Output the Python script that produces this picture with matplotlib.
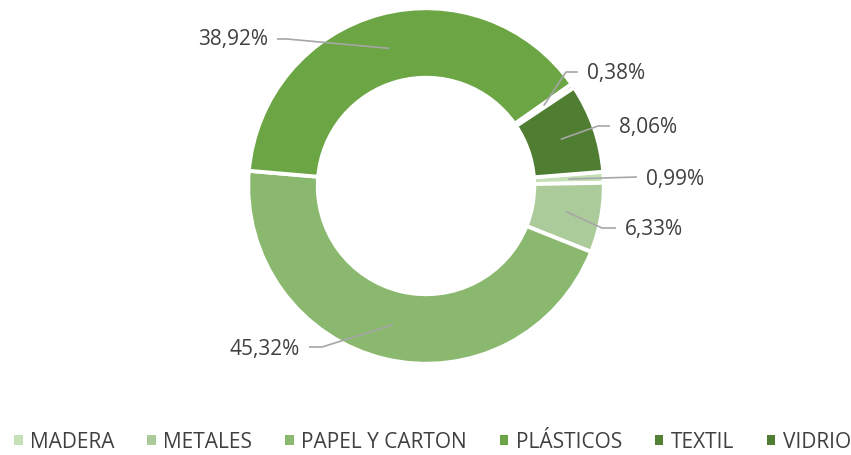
import numpy as np
import matplotlib.pyplot as plt
from matplotlib.patches import Patch

categorias = ['MADERA', 'METALES', 'PAPEL Y CARTON', 'PLÁSTICOS', 'TEXTIL', 'VIDRIO']
porcentajes = [0.99, 6.33, 45.32, 38.92, 0.38, 8.06]
colores = ['#c5dfb6', '#abcb9b', '#8ab86e', '#6ca544', '#548235', '#4f7d31']

plt.rcParams['font.family'] = ['Open Sans', 'DejaVu Sans']
texto_color = '#404040'
linea_color = '#a6a6a6'

W, H = 851, 456
cx, cy, R = 426, 187, 176   # centro y radio del anillo en pixeles

fig = plt.figure(figsize=(W / 100, H / 100), dpi=100)
ax = fig.add_axes([0, 0, 1, 1])

inicio = 4.6
wedges, _ = ax.pie(porcentajes, colors=colores, startangle=inicio, counterclock=False,
                   radius=1.01, wedgeprops=dict(width=0.395, edgecolor='white', linewidth=2.8))

ax.set_aspect('auto')
ax.set_xlim(-cx / R, (W - cx) / R)
ax.set_ylim((cy - H) / R, cy / R)
ax.axis('off')


def px(x, y):
    return (x - cx) / R, (cy - y) / R


# posiciones de las etiquetas (pixeles): texto, codo de la linea, lado
etiquetas = [
    ((646, 180), (637, 178), 'left'),   # MADERA
    ((625, 229), (602, 229), 'left'),   # METALES
    ((300, 350), (322, 348), 'right'),  # PAPEL
    ((268, 40), (287, 40), 'right'),    # PLASTICOS
    ((587, 74), (566, 73), 'left'),     # TEXTIL
    ((619, 128), (598, 127), 'left'),   # VIDRIO
]

acum = 0
rm = 0.81
for val, (tpos, codo, lado) in zip(porcentajes, etiquetas):
    ang = np.deg2rad(inicio - (acum + val / 2) * 3.6)
    acum += val
    x0, y0 = rm * np.cos(ang), rm * np.sin(ang)
    xt, yt = px(*tpos)
    xc, yc = px(*codo)
    if lado == 'left':
        xs = xt - 9 / R
    else:
        xs = xt + 9 / R
    ax.plot([xs, xc, x0], [yc, yc, y0], color=linea_color, lw=1.2, solid_capstyle='butt')
    txt = ('%.2f%%' % val).replace('.', ',')
    ax.text(xt, yt, txt, ha=lado, va='center', fontsize=15, color=texto_color)

handles = [Patch(facecolor=c, edgecolor='none') for c in colores]
fig.legend(handles, categorias, loc='center', bbox_to_anchor=(0.5 + 7 / W, 1 - 443 / H), ncol=6,
           frameon=False, fontsize=15, labelcolor=texto_color, handlelength=0.42,
           handleheight=0.42, handletextpad=0.35, columnspacing=1.57, borderaxespad=0)

fig.savefig('out.png', dpi=100, facecolor='white')
